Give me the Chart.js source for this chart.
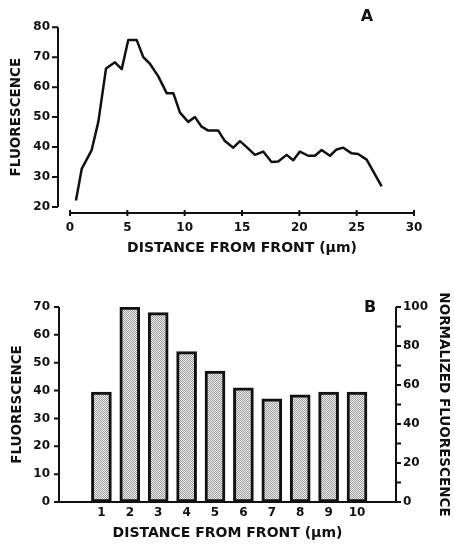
<!DOCTYPE html>
<html>
<head>
<meta charset="utf-8">
<script src="https://cdn.jsdelivr.net/npm/chart.js@4"></script>
<style>
  html, body { margin: 0; padding: 0; background: #fff; }
  #wrapA { position: absolute; left: 0; top: 0; width: 454px; height: 268px; }
  #wrapB { position: absolute; left: 0; top: 268px; width: 454px; height: 278px; }
</style>
</head>
<body>
<div id="wrapA"><canvas id="chartA"></canvas></div>
<div id="wrapB"><canvas id="chartB"></canvas></div>
<script>
// Panel A: fluorescence profile along the cell
const distA = [0.52, 1.02, 1.89, 2.47, 3.14, 3.92, 4.51, 5.08, 5.82, 6.39, 6.97, 7.70, 8.43, 9.01,
  9.59, 10.31, 10.90, 11.48, 12.06, 12.93, 13.51, 14.24, 14.82, 15.41, 16.13, 16.85, 17.58, 18.16,
  18.89, 19.47, 20.05, 20.78, 21.36, 21.94, 22.67, 23.25, 23.83, 24.56, 25.13, 25.87, 27.18];
const fluorA = [22.2, 32.7, 39, 48.4, 66.2, 68.3, 66, 75.7, 75.7, 70, 67.8, 63.6, 58, 58,
  51.5, 48.4, 50, 46.8, 45.5, 45.5, 42, 39.8, 42, 40, 37.4, 38.5, 35, 35.2,
  37.4, 35.6, 38.5, 37.1, 37.1, 39, 37.1, 39.2, 39.8, 37.9, 37.7, 35.8, 26.9];
const ticksAX = [0, 5, 10, 15, 20, 25, 30];
const ticksAY = [20, 30, 40, 50, 60, 70, 80];

// Panel B: binned fluorescence
const binsB = [1, 2, 3, 4, 5, 6, 7, 8, 9, 10];
const fluorB = [39.5, 70, 68, 54, 47, 41, 37, 38.5, 39.5, 39.5];
const ticksBY = [0, 10, 20, 30, 40, 50, 60, 70];
const ticksBY2 = [0, 10, 20, 30, 40, 50, 60, 70, 80, 90, 100];

const INK = '#111';
const FONT = 'DejaVu Sans';
const tickFont = { family: FONT, size: 12, weight: 'bold' };
const titleFont = { family: FONT, size: 14, weight: 'bold' };
const vTitleFont = { family: FONT, size: 13.5, weight: 'bold' };

function setTicks(list) {
  return function (scale) { scale.ticks = list.map(v => ({ value: v })); };
}

// stippled grey fill for the bars
function stipple() {
  const c = document.createElement('canvas');
  c.width = 2; c.height = 2;
  const g = c.getContext('2d');
  g.fillStyle = '#e6e6e6'; g.fillRect(0, 0, 2, 2);
  g.fillStyle = '#a6a6a6'; g.fillRect(0, 0, 1, 1); g.fillRect(1, 1, 1, 1);
  return g.createPattern(c, 'repeat');
}

const axesA = {
  id: 'axesA',
  afterDraw(chart) {
    const { ctx, scales: { x, y } } = chart;
    ctx.save();
    ctx.strokeStyle = INK;
    ctx.lineWidth = 2;
    ctx.beginPath();
    const ax = x.getPixelForValue(0) - 12;
    ctx.moveTo(ax, y.getPixelForValue(80));
    ctx.lineTo(ax, y.getPixelForValue(20));
    ticksAY.forEach(v => {
      const p = y.getPixelForValue(v);
      ctx.moveTo(ax - 6, p); ctx.lineTo(ax, p);
    });
    const ay = y.getPixelForValue(20) + 6;
    ctx.moveTo(x.getPixelForValue(0), ay);
    ctx.lineTo(x.getPixelForValue(30), ay);
    ticksAX.forEach(v => {
      const p = x.getPixelForValue(v);
      ctx.moveTo(p, ay - 3); ctx.lineTo(p, ay + 3);
    });
    ctx.stroke();
    ctx.fillStyle = INK;
    ctx.font = 'bold 16px ' + FONT;
    ctx.textAlign = 'center';
    ctx.textBaseline = 'middle';
    ctx.fillText('A', 367, 17);
    ctx.restore();
  }
};

const axesB = {
  id: 'axesB',
  afterDraw(chart) {
    const { ctx, scales: { x, y, y2 } } = chart;
    const a = chart.chartArea;
    ctx.save();
    ctx.strokeStyle = INK;
    ctx.lineWidth = 2;
    ctx.beginPath();
    ctx.moveTo(a.left, y.getPixelForValue(70));
    ctx.lineTo(a.left, y.getPixelForValue(0));
    ctx.lineTo(a.right, y.getPixelForValue(0));
    ticksBY.forEach(v => {
      const p = y.getPixelForValue(v);
      ctx.moveTo(a.left - 5, p); ctx.lineTo(a.left, p);
    });
    ctx.moveTo(a.right, y2.getPixelForValue(100));
    ctx.lineTo(a.right, y2.getPixelForValue(0));
    ticksBY2.forEach(v => {
      const p = y2.getPixelForValue(v);
      ctx.moveTo(a.right, p); ctx.lineTo(a.right + 5, p);
    });
    ctx.stroke();
    ctx.fillStyle = INK;
    ctx.font = 'bold 16px ' + FONT;
    ctx.textAlign = 'center';
    ctx.textBaseline = 'middle';
    ctx.fillText('B', 370, 40);
    ctx.restore();
  }
};

new Chart(document.getElementById('chartA'), {
  type: 'line',
  data: {
    datasets: [{
      data: distA.map((d, i) => ({ x: d, y: fluorA[i] })),
      borderColor: INK,
      borderWidth: 2.5,
      pointRadius: 0,
      tension: 0,
      borderJoinStyle: 'round',
      clip: false
    }]
  },
  options: {
    responsive: true,
    maintainAspectRatio: false,
    animation: false,
    layout: { padding: { top: 16, right: 40, left: 0, bottom: 0 } },
    plugins: { legend: { display: false }, tooltip: { enabled: false } },
    scales: {
      x: {
        type: 'linear', min: 0, max: 30,
        afterBuildTicks: setTicks(ticksAX),
        afterFit: s => { s.height = 61; },
        grid: { display: false, drawTicks: false },
        border: { display: false },
        ticks: { color: INK, font: tickFont, padding: 14, maxRotation: 0 },
        title: { display: true, text: 'DISTANCE FROM FRONT (µm)', color: INK, font: titleFont, padding: { top: 0, bottom: 11 } }
      },
      y: {
        type: 'linear', min: 20, max: 80,
        afterBuildTicks: setTicks(ticksAY),
        afterFit: s => { s.width = 70; },
        grid: { display: false, drawTicks: false },
        border: { display: false },
        ticks: { color: INK, font: tickFont, padding: 20 },
        title: { display: true, text: 'FLUORESCENCE', color: INK, font: vTitleFont, padding: { top: 8, bottom: 0 } }
      }
    }
  },
  plugins: [axesA]
});

new Chart(document.getElementById('chartB'), {
  type: 'bar',
  data: {
    datasets: [{
      data: binsB.map((b, i) => ({ x: b, y: fluorB[i] })),
      backgroundColor: stipple(),
      borderColor: INK,
      borderWidth: 3,
      borderSkipped: false,
      barThickness: 20,
      yAxisID: 'y'
    }]
  },
  options: {
    responsive: true,
    maintainAspectRatio: false,
    animation: false,
    layout: { padding: { top: 39, right: 0, left: 0, bottom: 0 } },
    plugins: { legend: { display: false }, tooltip: { enabled: false } },
    scales: {
      x: {
        type: 'linear', min: 0.1, max: 10.78,
        afterBuildTicks: setTicks(binsB),
        afterFit: s => { s.height = 44; },
        grid: { display: false, drawTicks: false },
        border: { display: false },
        ticks: { color: INK, font: tickFont, padding: 4, maxRotation: 0 },
        title: { display: true, text: 'DISTANCE FROM FRONT (µm)', color: INK, font: titleFont, padding: { top: 0, bottom: 4 } }
      },
      y: {
        type: 'linear', position: 'left', min: 0, max: 70,
        afterBuildTicks: setTicks(ticksBY),
        afterFit: s => { s.width = 59; },
        grid: { display: false, drawTicks: false },
        border: { display: false },
        ticks: { color: INK, font: tickFont, padding: 9 },
        title: { display: true, text: 'FLUORESCENCE', color: INK, font: vTitleFont, padding: { top: 9, bottom: 0 } }
      },
      y2: {
        type: 'linear', position: 'right', min: 0, max: 100,
        afterBuildTicks: setTicks(ticksBY2),
        afterFit: s => { s.width = 58; },
        grid: { display: false, drawTicks: false },
        border: { display: false },
        ticks: { color: INK, font: tickFont, padding: 7, callback: v => (v % 20 === 0 ? v : '') },
        title: { display: true, text: 'NORMALIZED FLUORESCENCE', color: INK, font: vTitleFont, padding: { top: 2, bottom: 0 } }
      }
    }
  },
  plugins: [axesB]
});
</script>
</body>
</html>
